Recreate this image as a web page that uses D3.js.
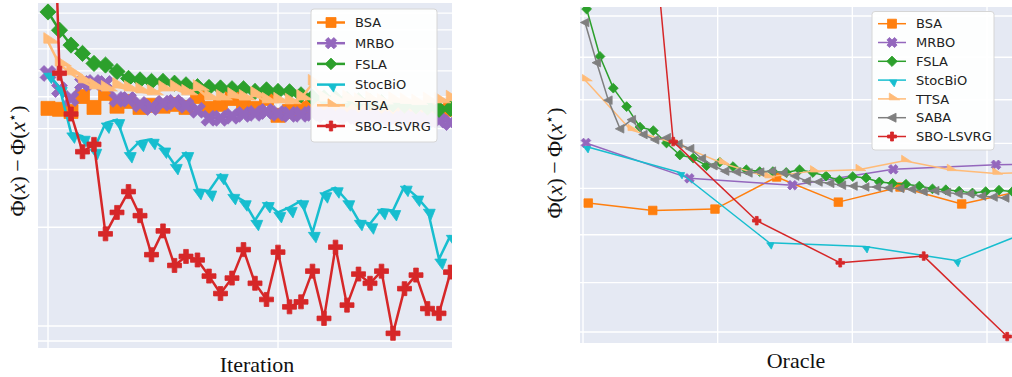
<!DOCTYPE html>
<html>
<head>
<meta charset="utf-8">
<script src="https://cdn.jsdelivr.net/npm/d3@7"></script>
<style>
  body { margin: 0; background: #fff; }
  svg { display: block; }
</style>
</head>
<body>
<div id="chart"></div>
<script>
// ---------- left panel: loss per iteration (index) ----------
const iterations = d3.range(36);
const iterTicks = [0, 20];
const leftYTicks = [0.9, 1, 2, 3, 4, 5, 6, 7, 8, 9];

const bsaIter = [4.61, 4.58, 4.51, 5.01, 4.64, 5.12, 4.68, 4.84, 4.64, 4.71, 4.68, 4.74, 4.64, 5.01, 4.61, 4.74, 4.94, 4.64,
  4.61, 4.94, 4.39, 4.51, 4.61, 4.71, 4.58, 4.66, 4.55, 4.62, 4.52, 4.60, 4.56, 4.63, 4.50, 4.57, 4.51, 4.58];
const mrboIter = [5.89, 5.26, 4.94, 5.49, 5.53, 5.49, 4.91, 4.91, 4.74, 4.64, 4.78, 4.81, 4.71, 4.55, 4.30, 4.30, 4.36, 4.42,
  4.45, 4.51, 4.45, 4.42, 4.42, 4.45, 4.40, 4.38, 4.35, 4.33, 4.36, 4.30, 4.28, 4.31, 4.27, 4.25, 4.24, 4.17];
const fslaIter = [9.07, 7.98, 7.19, 6.78, 6.32, 6.25, 5.97, 5.69, 5.63, 5.57, 5.57, 5.50, 5.44, 5.37, 5.34, 5.32, 5.29, 5.29,
  5.19, 5.25, 5.19, 5.18, 5.07, 4.98, 4.96, 4.93, 4.90, 4.86, 4.83, 4.80, 4.76, 4.72, 4.69, 4.65, 4.58, 4.61];
const stocbioIter = [5.90, 5.34, 3.88, 3.79, 3.46, 4.16, 4.26, 3.38, 3.66, 3.71, 3.49, 3.11, 3.38, 2.61, 2.58, 2.90, 2.52, 2.41,
  2.10, 2.38, 2.22, 2.30, 2.41, 1.93, 2.55, 2.64, 2.41, 2.10, 2.05, 2.27, 2.25, 2.67, 2.49, 2.27, 1.60, 1.89];
const ttsaIter = [7.36, 6.27, 5.89, 5.57, 5.34, 5.26, 5.37, 5.26, 5.19, 5.12, 5.26, 5.29, 5.12, 5.29, 4.94, 4.94, 5.01, 4.94,
  5.05, 4.84, 4.84, 4.81, 4.94, 5.49, 4.90, 4.85, 4.92, 4.83, 4.88, 4.80, 4.86, 4.82, 4.78, 4.85, 4.84, 4.91];
const sboIter = [79, 5.90, 4.43, 3.40, 3.58, 1.91, 2.22, 2.57, 2.17, 1.65, 1.95, 1.53, 1.63, 1.59, 1.42, 1.256, 1.40, 1.71,
  1.35, 1.205, 1.68, 1.144, 1.185, 1.47, 1.055, 1.74, 1.158, 1.44, 1.35, 1.47, 0.950, 1.30, 1.43, 1.13, 1.093, 1.46];

// ---------- right panel: loss per oracle call ----------
const oracleTicks = [0, 1000, 2000, 3000];
const rightYTicks = [3.0, 3.1, 3.2, 3.3, 3.4, 3.5, 3.6, 3.7];

const bsaOracle = [39, 518, 980, 1438, 1896, 2354, 2812, 3267];
const bsaLoss = [3.268, 3.252, 3.255, 3.325, 3.270, 3.303, 3.266, 3.295];
const mrboOracle = [22, 790, 1555, 2304, 3067, 3830];
const mrboLoss = [3.401, 3.322, 3.307, 3.342, 3.352, 3.355];
const fslaOracle = [27, 126, 225, 324, 423, 522, 620, 719, 818, 917, 1015, 1114, 1213, 1312, 1410, 1509, 1608,
  1707, 1805, 1904, 2003, 2102, 2200, 2299, 2398, 2497, 2595, 2694, 2793, 2892, 2990, 3089, 3188];
const fslaLoss = [3.717, 3.602, 3.527, 3.484, 3.437, 3.429, 3.401, 3.374, 3.367, 3.350, 3.358, 3.348, 3.341, 3.337,
  3.337, 3.335, 3.341, 3.335, 3.327, 3.318, 3.326, 3.323, 3.314, 3.311, 3.309, 3.305, 3.299, 3.297, 3.294, 3.290,
  3.293, 3.296, 3.293];
const stocbioOracle = [22, 720, 1383, 2094, 2770, 3460];
const stocbioLoss = [3.393, 3.335, 3.183, 3.175, 3.146, 3.224];
const ttsaOracle = [15, 353, 692, 1031, 1369, 1708, 2046, 2385, 2724, 3062, 3401];
const ttsaLoss = [3.546, 3.431, 3.399, 3.356, 3.325, 3.338, 3.341, 3.361, 3.341, 3.333, 3.336];
const sabaOracle = [15, 102, 188, 275, 362, 448, 535, 622, 708, 795, 882, 968, 1055, 1142, 1228, 1315, 1402, 1488,
  1575, 1662, 1748, 1835, 1922, 2008, 2095, 2182, 2268, 2355, 2442, 2528, 2615, 2702, 2788, 2875, 2962, 3048, 3135];
const sabaLoss = [3.684, 3.587, 3.499, 3.433, 3.454, 3.420, 3.408, 3.413, 3.399, 3.388, 3.366, 3.350, 3.338, 3.336,
  3.334, 3.336, 3.338, 3.334, 3.327, 3.316, 3.314, 3.311, 3.307, 3.305, 3.303, 3.303, 3.301, 3.300, 3.298, 3.293,
  3.295, 3.291, 3.288, 3.288, 3.283, 3.281, 3.279];
const sboOracle = [50, 670, 1290, 1910, 2530, 3150];
const sboLoss = [6.18, 3.404, 3.230, 3.141, 3.155, 2.991];

// methods: name, colour, marker
const methods = {
  BSA: { color: '#ff7f0e', marker: 'square' },
  MRBO: { color: '#9467bd', marker: 'x' },
  FSLA: { color: '#2ca02c', marker: 'diamond' },
  StocBiO: { color: '#17becf', marker: 'caretdown' },
  TTSA: { color: '#ffbb78', marker: 'caretright' },
  SABA: { color: '#7f7f7f', marker: 'left' },
  'SBO-LSVRG': { color: '#d62728', marker: 'plus' }
};

const zip = (xs, ys) => xs.map((x, i) => ({ x: x, y: ys[i] }));

const leftSeries = [
  { name: 'BSA', data: zip(iterations, bsaIter) },
  { name: 'MRBO', data: zip(iterations, mrboIter) },
  { name: 'FSLA', data: zip(iterations, fslaIter) },
  { name: 'StocBiO', data: zip(iterations, stocbioIter) },
  { name: 'TTSA', data: zip(iterations, ttsaIter) },
  { name: 'SBO-LSVRG', data: zip(iterations, sboIter) }
];
const rightSeries = [
  { name: 'BSA', data: zip(bsaOracle, bsaLoss) },
  { name: 'MRBO', data: zip(mrboOracle, mrboLoss) },
  { name: 'FSLA', data: zip(fslaOracle, fslaLoss) },
  { name: 'StocBiO', data: zip(stocbioOracle, stocbioLoss) },
  { name: 'TTSA', data: zip(ttsaOracle, ttsaLoss) },
  { name: 'SABA', data: zip(sabaOracle, sabaLoss) },
  { name: 'SBO-LSVRG', data: zip(sboOracle, sboLoss) }
];

// marker shapes, s = nominal size in px
function markerPath(type, s) {
  const h = s / 2;
  if (type === 'square') return `M${-h},${-h}H${h}V${h}H${-h}Z`;
  if (type === 'diamond') {
    const r = s * 0.58;
    return `M0,${-r}L${r},0L0,${r}L${-r},0Z`;
  }
  if (type === 'plus' || type === 'x') {
    const a = type === 'x' ? s * 0.6 : h, t = a / 3;
    return `M${-t},${-a}H${t}V${-t}H${a}V${t}H${t}V${a}H${-t}V${t}H${-a}V${-t}H${-t}Z`;
  }
  if (type === 'caretdown') return `M${-0.3 * s},0L${0.55 * s},0L${0.25 * s},${0.75 * s}Z`;
  if (type === 'caretright') return `M${-0.3 * s},${-0.65 * s}L${-0.3 * s},${0.1 * s}L${0.85 * s},${0.1 * s}Z`;
  if (type === 'left') return `M${-0.55 * s},0L${0.45 * s},${-0.5 * s}L${0.45 * s},${0.5 * s}Z`;
  return '';
}
const markerRot = type => (type === 'x' ? ' rotate(45)' : '');

const W = 1012, H = 377;
const svg = d3.select('#chart').append('svg').attr('width', W).attr('height', H);

function yLabel(x, y) {
  const t = svg.append('text')
    .attr('transform', `translate(${x},${y}) rotate(-90)`)
    .attr('text-anchor', 'middle')
    .attr('font-family', 'Liberation Serif, serif')
    .attr('font-size', 22)
    .attr('fill', '#111');
  t.append('tspan').text('Φ(');
  t.append('tspan').attr('font-style', 'italic').text('x');
  t.append('tspan').text(')\u2009−\u2009Φ(');
  t.append('tspan').attr('font-style', 'italic').text('x');
  t.append('tspan').attr('font-size', 14).attr('dy', -8).text('⋆');
  t.append('tspan').attr('dy', 8).text(')');
}

function drawPanel(cfg) {
  const x = cfg.x, y = cfg.y;
  const [x0, x1] = x.range(), [y1, y0] = y.range();
  const g = svg.append('g');

  g.append('rect').attr('x', x0).attr('y', y0).attr('width', x1 - x0).attr('height', y1 - y0)
    .attr('fill', '#e5e9f3');

  // grid
  g.selectAll('.hgrid').data(cfg.yTicks).enter().append('line')
    .attr('x1', x0).attr('x2', x1).attr('y1', d => y(d)).attr('y2', d => y(d))
    .attr('stroke', '#fff').attr('stroke-width', 1.4);
  g.selectAll('.vgrid').data(cfg.xTicks).enter().append('line')
    .attr('y1', y0).attr('y2', y1).attr('x1', d => x(d)).attr('x2', d => x(d))
    .attr('stroke', '#fff').attr('stroke-width', 1.4);

  const clipId = 'clip-' + cfg.id;
  svg.append('clipPath').attr('id', clipId).append('rect')
    .attr('x', x0).attr('y', y0).attr('width', x1 - x0).attr('height', y1 - y0);

  const plot = g.append('g').attr('clip-path', `url(#${clipId})`);
  const line = d3.line().x(d => x(d.x)).y(d => y(d.y));

  cfg.series.forEach(s => {
    const m = methods[s.name];
    const sg = plot.append('g');
    sg.append('path').datum(s.data).attr('d', line)
      .attr('fill', 'none').attr('stroke', m.color).attr('stroke-width', cfg.lw)
      .attr('stroke-linejoin', 'round');
    sg.selectAll('path.mk').data(s.data).enter().append('path').attr('class', 'mk')
      .attr('d', markerPath(m.marker, cfg.ms))
      .attr('transform', d => `translate(${x(d.x)},${y(d.y)})${markerRot(m.marker)}`)
      .attr('fill', m.color).attr('stroke', m.color).attr('stroke-width', 0.8);
  });

  // legend
  const L = cfg.legend;
  const lg = svg.append('g');
  lg.append('rect').attr('x', L.x).attr('y', L.y).attr('width', L.w).attr('height', L.h)
    .attr('rx', 3).attr('fill', '#fff').attr('fill-opacity', 0.92)
    .attr('stroke', '#d6d6d6').attr('stroke-width', 1);
  cfg.series.forEach((s, i) => {
    const m = methods[s.name];
    const ry = L.y + L.top + i * L.step;
    lg.append('line').attr('x1', L.x + 6).attr('x2', L.x + 34).attr('y1', ry).attr('y2', ry)
      .attr('stroke', m.color).attr('stroke-width', cfg.lw);
    lg.append('path').attr('d', markerPath(m.marker, L.ms))
      .attr('transform', `translate(${L.x + 20},${ry})${markerRot(m.marker)}`)
      .attr('fill', m.color).attr('stroke', m.color).attr('stroke-width', 0.8);
    lg.append('text').attr('x', L.x + 44).attr('y', ry).attr('dy', '0.36em')
      .attr('font-family', 'DejaVu Sans, sans-serif').attr('font-size', 13).attr('fill', '#222')
      .text(s.name);
  });

  svg.append('text').attr('x', cfg.xLabelPos[0]).attr('y', cfg.xLabelPos[1])
    .attr('text-anchor', 'middle').attr('font-family', 'Liberation Serif, serif')
    .attr('font-size', 22).attr('fill', '#111').text(cfg.xLabel);
  yLabel(cfg.yLabelPos[0], cfg.yLabelPos[1]);
}

drawPanel({
  id: 'left',
  x: d3.scaleLinear().domain([-0.87, 35.13]).range([38, 452]),
  y: d3.scaleLog().domain([0.857, 9.66]).range([348, 3]),
  xTicks: iterTicks, yTicks: leftYTicks,
  series: leftSeries, lw: 2.5, ms: 14,
  legend: { x: 311, y: 9, w: 126, h: 133, top: 13.5, step: 20.7, ms: 10 },
  xLabel: 'Iteration', xLabelPos: [257, 372],
  yLabelPos: [25, 161]
});

drawPanel({
  id: 'right',
  x: d3.scaleLinear().domain([-22.3, 3185.6]).range([580, 1012]),
  y: d3.scaleLog().domain([2.9782, 3.7221]).range([343, 7]),
  xTicks: oracleTicks, yTicks: rightYTicks,
  series: rightSeries, lw: 1.5, ms: 8.5,
  legend: { x: 872, y: 11.5, w: 122, h: 138.5, top: 12.2, step: 18.8, ms: 9 },
  xLabel: 'Oracle', xLabelPos: [796, 368],
  yLabelPos: [562, 163]
});
</script>
</body>
</html>
